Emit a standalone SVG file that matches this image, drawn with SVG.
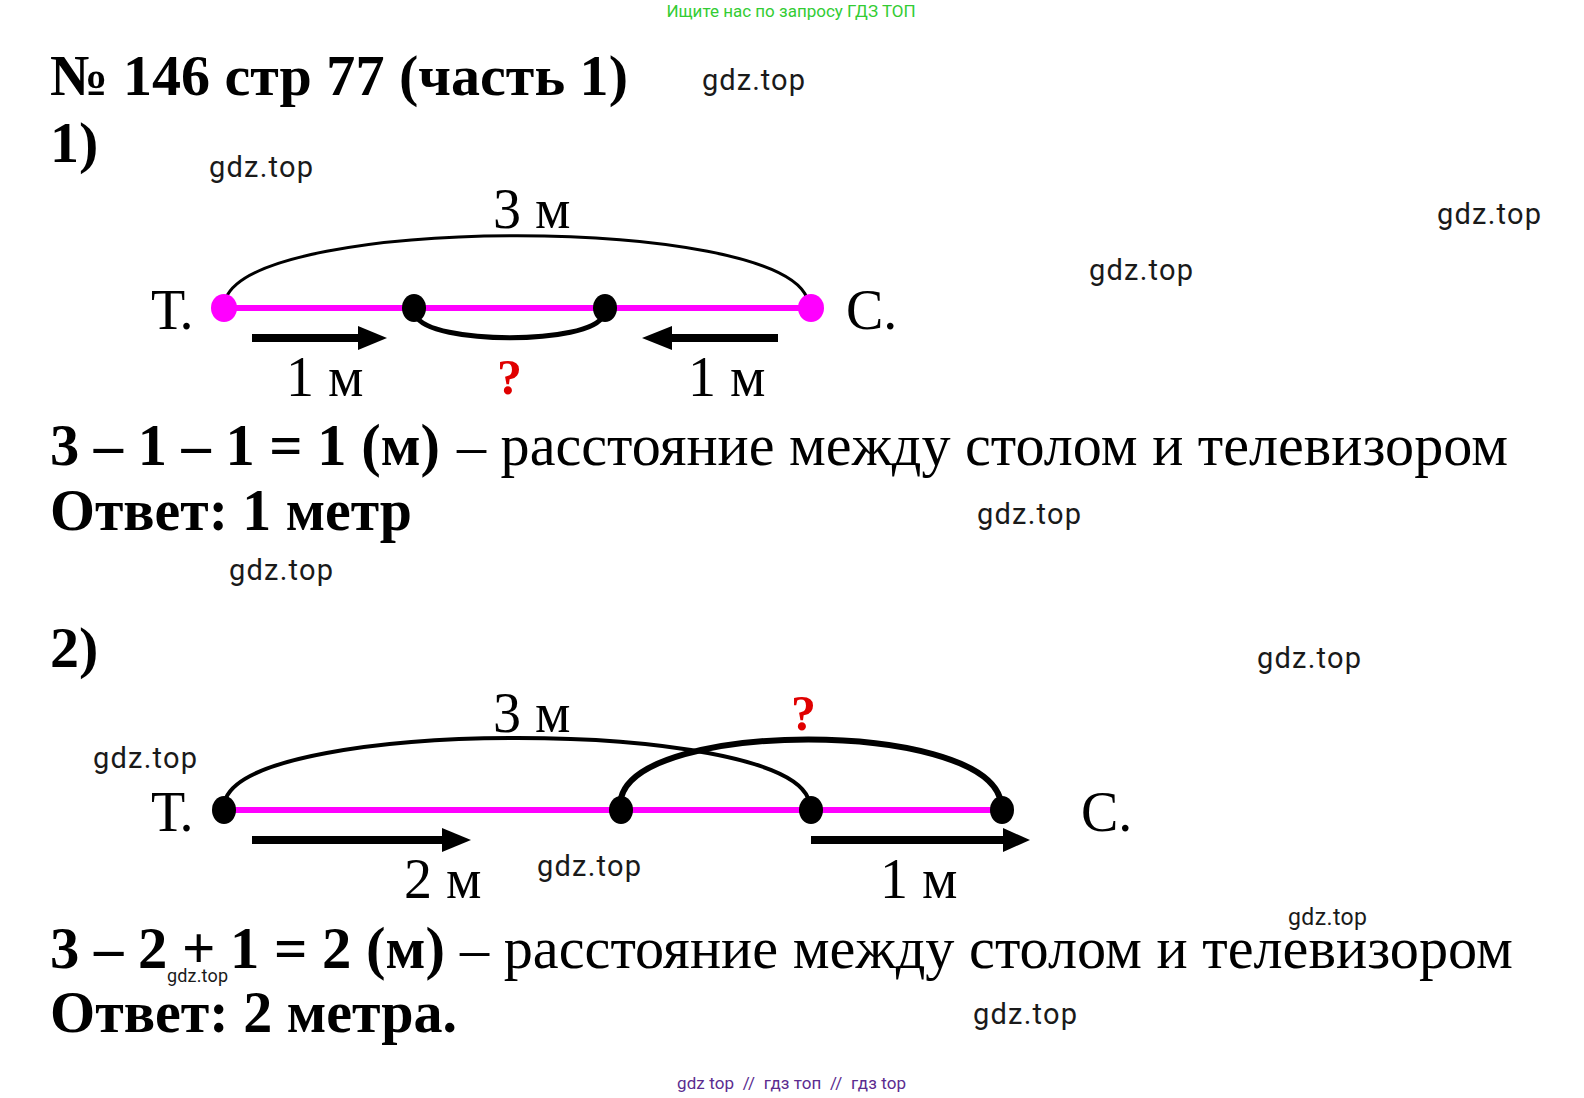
<svg xmlns="http://www.w3.org/2000/svg" width="1584" height="1098" viewBox="0 0 1584 1098">
<style>
.s{font-family:"Liberation Serif","Times New Roman",serif;fill:#000}
.b{font-weight:bold}
.lab{font-family:"Liberation Serif","Times New Roman",serif;font-size:56px;fill:#000}
.q{font-family:"Liberation Serif","Times New Roman",serif;font-size:50px;font-weight:bold;fill:#e00000}
.wm{font-family:Roboto,"Liberation Sans",sans-serif;font-size:29px;fill:#1a1a1a}
.wms{font-family:Roboto,"Liberation Sans",sans-serif;font-size:23px;fill:#1a1a1a}
.wmt{font-family:Roboto,"Liberation Sans",sans-serif;font-size:18px;fill:#1a1a1a}
.mag{stroke:#ff00ff;stroke-width:6;fill:none}
.arc{stroke:#000;fill:none}
.shaft{stroke:#000;stroke-width:8}
</style>
<rect width="1584" height="1098" fill="#fff"/>
<text x="791" y="17" text-anchor="middle" font-family="Roboto,'Liberation Sans',sans-serif" font-size="17" fill="#33cc33">Ищите нас по запросу ГДЗ ТОП</text>
<text class="s b" x="50" y="95" font-size="58" textLength="578" lengthAdjust="spacingAndGlyphs">№ 146 стр 77 (часть 1)</text>
<text class="s b" x="50" y="162" font-size="58">1)</text>

<g id="diagram1-connectors">
<line class="mag" x1="224" y1="308" x2="811" y2="308"/>
<path class="arc" stroke-width="3" d="M226,298 C260,215 775,215 807,298"/>
<path class="arc" stroke-width="5" d="M416,316 C430,345 590,345 603,316"/>
<line class="shaft" x1="252" y1="338" x2="362" y2="338"/>
<polygon points="358,326 358,350 387,338" fill="#000"/>
<line class="shaft" x1="778" y1="338" x2="668" y2="338"/>
<polygon points="672,326 672,350 642,338" fill="#000"/>
</g>
<g id="d1-T"><ellipse cx="224" cy="308" rx="13" ry="14" fill="#ff00ff"/><text class="lab" x="151" y="329">Т.</text></g>
<g id="d1-C"><ellipse cx="811" cy="308" rx="13" ry="14" fill="#ff00ff"/><text class="lab" x="846" y="329">С.</text></g>
<g id="d1-p1"><ellipse cx="414" cy="308" rx="12" ry="14" fill="#000"/></g>
<g id="d1-p2"><ellipse cx="605" cy="308" rx="12" ry="14" fill="#000"/></g>
<text class="lab" x="493" y="228">3 м</text>
<text class="lab" x="286" y="396">1 м</text>
<text class="q" x="497" y="394">?</text>
<text class="lab" x="688" y="396">1 м</text>

<text class="s b" x="50" y="465" font-size="60" textLength="390" lengthAdjust="spacingAndGlyphs">3 – 1 – 1 = 1 (м)</text>
<text class="s" x="457" y="465" font-size="60" textLength="1051" lengthAdjust="spacingAndGlyphs">– расстояние между столом и телевизором</text>
<text class="s b" x="50" y="530" font-size="60" textLength="362" lengthAdjust="spacingAndGlyphs">Ответ: 1 метр</text>

<text class="s b" x="50" y="667" font-size="58">2)</text>

<g id="diagram2-connectors">
<line class="mag" x1="224" y1="810" x2="1002" y2="810"/>
<path class="arc" stroke-width="4" d="M226,798 C260,718 775,718 808,798"/>
<path class="arc" stroke-width="6" d="M621,798 C640,720 975,720 1000,798"/>
<line class="shaft" x1="252" y1="840" x2="445" y2="840"/>
<polygon points="442,828 442,852 471,840" fill="#000"/>
<line class="shaft" x1="811" y1="840" x2="1005" y2="840"/>
<polygon points="1003,828 1003,852 1030,840" fill="#000"/>
</g>
<g id="d2-T"><ellipse cx="224" cy="810" rx="12" ry="14" fill="#000"/><text class="lab" x="151" y="831">Т.</text></g>
<g id="d2-p1"><ellipse cx="621" cy="810" rx="12" ry="14" fill="#000"/></g>
<g id="d2-p2"><ellipse cx="811" cy="810" rx="12" ry="14" fill="#000"/></g>
<g id="d2-C"><ellipse cx="1002" cy="810" rx="12" ry="14" fill="#000"/><text class="lab" x="1081" y="831">С.</text></g>
<text class="lab" x="493" y="732">3 м</text>
<text class="q" x="791" y="730">?</text>
<text class="lab" x="404" y="898">2 м</text>
<text class="lab" x="880" y="898">1 м</text>

<text class="s b" x="50" y="968" font-size="60" textLength="395" lengthAdjust="spacingAndGlyphs">3 – 2 + 1 = 2 (м)</text>
<text class="s" x="460" y="968" font-size="60" textLength="1053" lengthAdjust="spacingAndGlyphs">– расстояние между столом и телевизором</text>
<text class="s b" x="50" y="1032" font-size="60" textLength="407" lengthAdjust="spacingAndGlyphs">Ответ: 2 метра.</text>

<g id="watermarks">
<text class="wm" x="702" y="90" textLength="103">gdz.top</text>
<text class="wm" x="209" y="177" textLength="104">gdz.top</text>
<text class="wm" x="1437" y="224" textLength="104">gdz.top</text>
<text class="wm" x="1089" y="280" textLength="104">gdz.top</text>
<text class="wm" x="977" y="524" textLength="104">gdz.top</text>
<text class="wm" x="229" y="580" textLength="104">gdz.top</text>
<text class="wm" x="1257" y="668" textLength="104">gdz.top</text>
<text class="wm" x="93" y="768" textLength="104">gdz.top</text>
<text class="wm" x="537" y="876" textLength="104">gdz.top</text>
<text class="wms" x="1288" y="925" textLength="79">gdz.top</text>
<text class="wmt" x="167" y="982" textLength="61">gdz.top</text>
<text class="wm" x="973" y="1024" textLength="104">gdz.top</text>
</g>
<text x="677" y="1089" font-family="Roboto,'Liberation Sans',sans-serif" font-size="17" fill="#5b2c8f" textLength="229" xml:space="preserve">gdz top  //  гдз топ  //  гдз top</text>
</svg>
